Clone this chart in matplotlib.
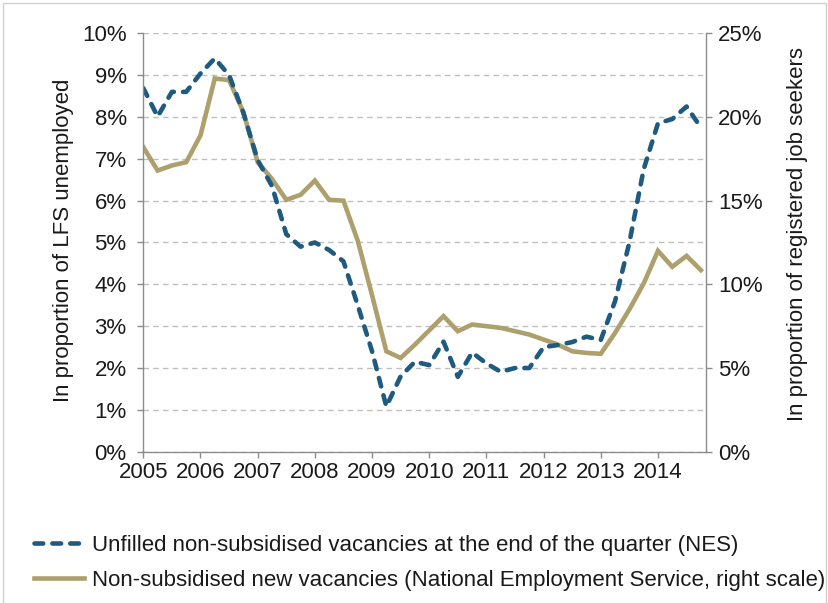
import matplotlib
matplotlib.use("Agg")
import matplotlib.pyplot as plt
from matplotlib.ticker import MultipleLocator, FuncFormatter
from matplotlib.patches import Rectangle

plt.rcParams['font.family'] = ['Liberation Sans', 'DejaVu Sans']

# Quarterly data 2005Q1 .. 2014Q4
quarters = [2005 + i / 4 for i in range(40)]

# Unfilled non-subsidised vacancies at the end of the quarter (NES), % of LFS unemployed (left scale)
unfilled = [8.69, 8.01, 8.60, 8.60, 9.04, 9.40, 9.00, 8.10, 6.97, 6.35,
            5.20, 4.90, 5.00, 4.82, 4.55, 3.50, 2.40, 1.08, 1.80, 2.15,
            2.07, 2.63, 1.79, 2.37, 2.11, 1.91, 2.00, 2.00, 2.50, 2.55,
            2.62, 2.75, 2.67, 3.60, 5.00, 6.75, 7.85, 7.95, 8.25, 7.75]

# Non-subsidised new vacancies (NES), % of registered job seekers (right scale)
new_vac = [18.2, 16.8, 17.1, 17.3, 18.9, 22.3, 22.2, 20.3, 17.3, 16.3,
           15.05, 15.35, 16.2, 15.05, 15.0, 12.6, 9.35, 6.0, 5.6, 6.4,
           7.25, 8.1, 7.2, 7.6, 7.5, 7.4, 7.2, 7.0, 6.7, 6.4,
           6.0, 5.9, 5.85, 7.1, 8.5, 10.05, 12.0, 11.05, 11.7, 10.85]

year_ticks = list(range(2005, 2015))
left_ticks = list(range(0, 11))
right_ticks = list(range(0, 26, 5))

label_unfilled = "Unfilled non-subsidised vacancies at the end of the quarter (NES)"
label_new = "Non-subsidised new vacancies (National Employment Service, right scale)"
ylabel_left = "In proportion of LFS unemployed"
ylabel_right = "In proportion of registered job seekers"

BLUE = "#1F5A80"
TAN = "#ADA06C"
AXC = "#8C8C8C"
GRIDC = "#BFBFBF"
TXT = "#1a1a1a"
FS = 16

W, H = 829, 603
fig = plt.figure(figsize=(W / 100, H / 100), dpi=100)
L, R, T, B = 143.3, 706.0, 33.3, 451.7
ax = fig.add_axes([L / W, 1 - B / H, (R - L) / W, (B - T) / H])
ax2 = ax.twinx()

# tan line on the right axis (drawn below)
l2, = ax2.plot(quarters, new_vac, color=TAN, lw=3.3, solid_joinstyle='miter', label=label_new)
ax2.set_ylim(0, 25)
ax2.set_yticks(right_ticks)
ax2.yaxis.set_minor_locator(MultipleLocator(2.5))
ax2.yaxis.set_major_formatter(FuncFormatter(lambda v, p: f"{v:.0f}%"))
ax2.grid(True, which='both', axis='y', color=GRIDC, lw=1.0, ls=(0, (4, 3)))
ax2.set_axisbelow(True)
ax2.tick_params(axis='y', which='major', direction='out', length=4, width=1,
                color=AXC, labelsize=FS, pad=4.5, labelcolor=TXT)
ax2.tick_params(axis='y', which='minor', length=0)

# blue dashed line on the left axis (drawn above)
ax.set_zorder(ax2.get_zorder() + 1)
ax.patch.set_visible(False)
l1, = ax.plot(quarters, unfilled, color=BLUE, lw=3.3, ls=(0, (1.9, 2.0)),
              dash_capstyle='round', label=label_unfilled)
ax.set_ylim(0, 10)
ax.set_yticks(left_ticks)
ax.yaxis.set_major_formatter(FuncFormatter(lambda v, p: f"{v:.0f}%"))
ax.set_xlim(2005, 2014.84)
ax.set_xticks(year_ticks)
ax.set_xticklabels([str(y) for y in year_ticks])
ax.tick_params(axis='y', direction='out', length=4, width=1, color=AXC,
               labelsize=FS, pad=8, labelcolor=TXT)
ax.tick_params(axis='x', direction='out', length=4, width=1, color=AXC,
               labelsize=FS, pad=3.5, labelcolor=TXT)

for a in (ax, ax2):
    a.spines['top'].set_visible(False)
    for s in ('left', 'right', 'bottom'):
        a.spines[s].set_color(AXC)
        a.spines[s].set_linewidth(1.0)
ax.spines['right'].set_visible(False)
ax2.spines['left'].set_visible(False)
ax2.spines['bottom'].set_visible(False)

ax.set_ylabel(ylabel_left, fontsize=FS, color=TXT)
ax.yaxis.set_label_coords(-0.123, 0.505)
ax2.set_ylabel(ylabel_right, fontsize=FS, color=TXT, rotation=90)
ax2.yaxis.set_label_coords(1.144, 0.52)

leg = fig.legend([l1, l2], [label_unfilled, label_new], loc='upper left',
                 bbox_to_anchor=(34 / W, 1 - 535 / H), frameon=False,
                 fontsize=FS, handlelength=2.25, handletextpad=0.36,
                 labelspacing=0.64, borderpad=0, borderaxespad=0)
for t in leg.get_texts():
    t.set_color(TXT)

fig.patches.append(Rectangle((3 / W, -0.01), 1 - 6 / W, 1 - 3 / H + 0.01,
                             transform=fig.transFigure, fill=False,
                             edgecolor='#D0D0D0', lw=1.0))

fig.savefig("out.png", dpi=100, facecolor='white')
